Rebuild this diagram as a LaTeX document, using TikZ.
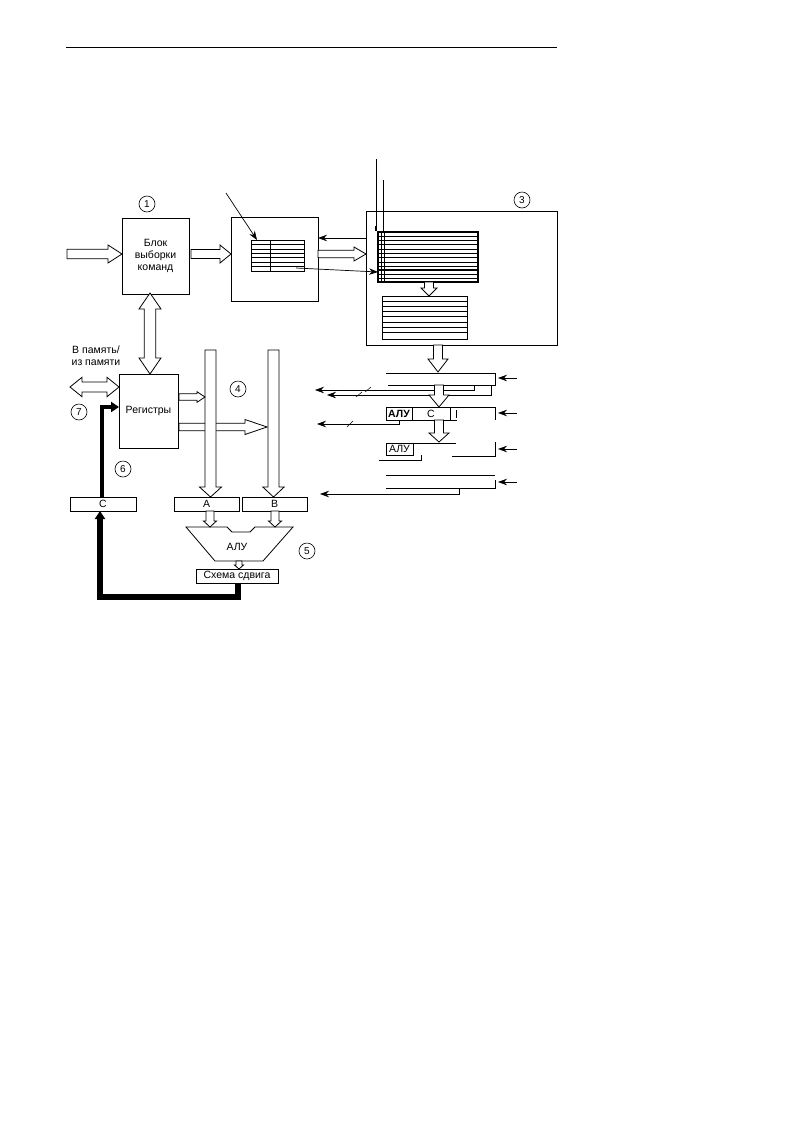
\documentclass[tikz,border=0pt]{standalone}
\usepackage{fontspec}
\setmainfont{Liberation Sans}
\usetikzlibrary{calc,arrows.meta}
\tikzset{
  x=1pt,y=-1pt,
  box/.style={draw=black,line width=0.7pt,fill=white,inner sep=0pt,outer sep=0pt,align=center,font=\fontsize{10.5}{12}\selectfont},
  hollow/.style={draw=black,line width=0.8pt,fill=white,line join=miter},
  thin line/.style={draw=black,line width=0.7pt},
  conn/.style={draw=black,line width=0.7pt,-{Stealth[length=9pt,width=6.5pt]}},
  bus/.style={draw=black,line width=5.5pt,-{Stealth[length=8pt,width=10pt,inset=0pt]}},
  num/.style={circle,draw=black,line width=0.6pt,minimum size=16pt,inner sep=0pt,font=\fontsize{10}{10}\selectfont},
  lbl/.style={inner sep=0pt,align=center,font=\fontsize{10.5}{12}\selectfont},
  slash/.style={draw=black,line width=0.5pt}
}
% from, to, shaft half, head half, head length
\newcommand\harrow[5]{%
  \coordinate (hb) at ($(#2)!#5pt!(#1)$);
  \draw[hollow] ($(#1)!#3pt!90:(#2)$) -- ($(hb)!#3pt!-90:(#1)$) -- ($(hb)!#4pt!-90:(#1)$) -- (#2)
    -- ($(hb)!#4pt!90:(#1)$) -- ($(hb)!#3pt!90:(#1)$) -- ($(#1)!#3pt!-90:(#2)$) -- cycle;}
\newcommand\hdouble[5]{%
  \coordinate (hb) at ($(#2)!#5pt!(#1)$);
  \coordinate (ha) at ($(#1)!#5pt!(#2)$);
  \draw[hollow] (#1) -- ($(ha)!#4pt!90:(#2)$) -- ($(ha)!#3pt!90:(#2)$) -- ($(hb)!#3pt!-90:(#1)$) -- ($(hb)!#4pt!-90:(#1)$) -- (#2)
    -- ($(hb)!#4pt!90:(#1)$) -- ($(hb)!#3pt!90:(#1)$) -- ($(ha)!#3pt!-90:(#2)$) -- ($(ha)!#4pt!-90:(#2)$) -- cycle;}
% name, x1, y1, x2, y2, text
\newcommand\bx[6]{%
  \node[box,minimum width={#4-#2},minimum height={#5-#3}] (#1) at ({(#2+#4)/2},{(#3+#5)/2}) {#6};}
\begin{document}
\begin{tikzpicture}
\useasboundingbox (0,0) rectangle (797,1125);
\fill[white] (0,0) rectangle (797,1125);
\coordinate (ruleL) at (66,47); \coordinate (ruleR) at (557,47);
\draw[draw=black,line width=1pt] (ruleL) -- (ruleR);

% main boxes
\bx{fetch}{122}{218}{189}{294}{Блок\\выборки\\команд}
\bx{decode}{231}{217}{318}{301}{}
\bx{cachebox}{366}{211}{557}{345}{}
\bx{regs}{119}{374}{178}{448}{Регистры}

% numbers
\node[num] (n1) at (147,204) {1};
\node[num] (n3) at (522,200) {3};
\node[num] (n4) at (238,389) {4};
\node[num] (n5) at (307,551) {5};
\node[num] (n6) at (123,469) {6};
\node[num] (n7) at (79,412) {7};

% decode table
\bx{dectab}{251}{240}{304}{271}{}
\foreach \yy in {244.4,248.9,253.3,257.7,262.1,266.6} \draw[thin line] (251,\yy) -- (304,\yy);
\draw[thin line] (270,240) -- (270,271);
\coordinate (ptrA) at (226,193);
\coordinate (ptrAe) at (257,240);
\draw[conn] (ptrA) -- (ptrAe);

% cache table
\bx{cachetab}{378}{232}{478}{282}{}
\draw[draw=black,line width=1.5pt] (cachetab.south west) rectangle (cachetab.north east);
\foreach \yy/\w in {236/0.6,240/0.6,244.5/1.2,249/0.6,253/0.6,257.5/1.2,262/0.6,266/0.6,270/1.2,274/0.6,278/0.6}
  \draw[draw=black,line width=\w pt] (378,\yy) -- (478,\yy);
\draw[thin line] (381,232) -- (381,282);
\draw[thin line] (384,232) -- (384,282);

\bx{datatab}{382}{296}{467}{339}{}
\foreach \yy in {301.3,306.3,311.7,316.7,322,327.3,332.7} \draw[thin line] (382,\yy) -- (467,\yy);

% vertical pointers
\coordinate (ptrB) at (376,159); \coordinate (ptrBe) at (376,231);
\coordinate (ptrC) at (383,180); \coordinate (ptrCe) at (383,232);
\draw[thin line] (ptrB) -- (ptrBe);
\draw[thin line,line width=1.2pt] (376,226) -- (ptrBe);
\draw[thin line] (ptrC) -- (ptrCe);

% decode <-> cache
\coordinate (back1) at (366,238); \coordinate (back1e) at (318,238);
\draw[conn] (back1) -- (back1e);
\coordinate (fw1) at (318,254); \coordinate (fw1e) at (366,254);
\harrow{fw1}{fw1e}{3.7}{7}{12}
\coordinate (hit) at (296,268); \coordinate (hite) at (378,272);
\draw[conn] (hit) -- (hite);

% hollow arrows top
\coordinate (in1) at (67,254); \coordinate (in1e) at (122,254);
\harrow{in1}{in1e}{4.7}{9}{14}
\coordinate (f2) at (191,254); \coordinate (f2e) at (231,254);
\harrow{f2}{f2e}{4.5}{9}{11}
\coordinate (fr1) at (150,293); \coordinate (fr2) at (150,374);
\hdouble{fr1}{fr2}{5.7}{11}{16}
\coordinate (cc1) at (429,282); \coordinate (cc2) at (429,296);
\harrow{cc1}{cc2}{4.5}{8}{8}
\coordinate (ex1) at (438,345); \coordinate (ex2) at (438,372);
\harrow{ex1}{ex2}{4.5}{10}{13}

% memory label + arrow
\node[lbl] (memlbl) at (96,356) {В память/\\из памяти};
\coordinate (m1) at (70,387); \coordinate (m2) at (119,387);
\hdouble{m1}{m2}{5}{9.7}{12}

% registers to buses
\coordinate (rb) at (179,427); \coordinate (rbe) at (267,427);
\harrow{rb}{rbe}{3.7}{7.5}{22}
\coordinate (ra) at (179,397); \coordinate (rae) at (205,397);

% operand latches
\bx{latA}{174}{497}{239}{511}{А}
\bx{latB}{242}{497}{307}{511}{В}
\bx{latC}{70}{497}{136}{511}{С}

% buses
\coordinate (busA) at (210.5,350); \coordinate (busB) at (273.5,350);
\coordinate (busAe) at (210.5,497); \coordinate (busBe) at (273.5,497);
\harrow{busA}{busAe}{5.5}{11}{10}
\harrow{busB}{busBe}{5.5}{10.7}{10}
\harrow{ra}{rae}{3.3}{5.3}{8}

% ALU
\draw[hollow] (186,527) coordinate (aluTL) -- (227,527) -- (232,532) -- (250,532) -- (255,527) -- (293,527) -- (263,561) -- (215,561) -- cycle;
\node[lbl] (alu) at (237,547) {АЛУ};
\coordinate (aI1) at (210,511); \coordinate (aI2) at (210,527);
\coordinate (bI1) at (275,511); \coordinate (bI2) at (275,527);
\harrow{aI1}{aI2}{4}{6.5}{6}
\harrow{bI1}{bI2}{4}{6.5}{6}
\bx{shift}{196}{569}{278}{583}{Схема сдвига}
\coordinate (aO1) at (239,561); \coordinate (aO2) at (239,569);
\harrow{aO1}{aO2}{3}{4.5}{4}

% thick result path
\coordinate (sOut) at (238,583);
\coordinate (cIn) at (100,511);
\draw[bus,line join=miter] (sOut) -- (238,597) -- (100,597) -- (cIn);
\coordinate (cOut) at (102,497);
\coordinate (rIn) at (119,407);
\draw[bus,line width=4.5pt] (cOut) -- (102,407) -- (rIn);

% pipeline registers (right)
\coordinate (r1a) at (386,373); \coordinate (r1b) at (495,373); \coordinate (r1c) at (495,385); \coordinate (r1d) at (388,385);
\draw[thin line] (r1a) -- (r1b) -- (r1c) -- (r1d);
\coordinate (l1) at (474,385); \coordinate (l1e) at (315,390);
\coordinate (l2) at (491,385); \coordinate (l2e) at (327,395);
\draw[conn] (l1) -- (l1 |- l1e) -- (l1e);
\draw[conn] (l2) -- (l2 |- l2e) -- (l2e);
\draw[slash] (365,392) -- (371,387);
\draw[slash] (356,397) -- (362,392);
\coordinate (mh1) at (439,385); \coordinate (mh2) at (439,407);
\harrow{mh1}{mh2}{4.5}{10}{12}

\bx{aluB}{386}{407}{412}{420}{\bfseries АЛУ}
\bx{cB}{412}{407}{450}{420}{С}
\draw[thin line] (450,407) -- (495,407);
\draw[thin line] (495,407) -- (495,420);
\draw[thin line] (450,420) -- (457,420);
\draw[thin line] (456,410) -- (456,418);
\coordinate (l3) at (399,420); \coordinate (l3e) at (317,424);
\draw[conn] (l3) -- (l3 |- l3e) -- (l3e);
\draw[slash] (347,427) -- (353,421);
\coordinate (mh3) at (439,420); \coordinate (mh4) at (439,442);
\harrow{mh3}{mh4}{4.5}{10}{9}

\bx{aluC}{386}{443}{413}{455}{АЛУ}
\draw[thin line] (413,443) -- (456,443);
\draw[thin line] (452,456) -- (495,456) -- (495,442);
\draw[thin line] (421,455) -- (421,460) -- (379,460);

\coordinate (r4a) at (386,475); \coordinate (r4b) at (495,475);
\coordinate (r4c) at (386,488); \coordinate (r4d) at (495,488);
\draw[thin line] (r4a) -- (r4b);
\draw[thin line] (r4c) -- (r4d) -- (495,480);
\coordinate (l4) at (459,488); \coordinate (l4e) at (320,494);
\draw[conn] (l4) -- (l4 |- l4e) -- (l4e);

% clock arrows
\foreach \yy in {378,413,449,482} {
  \coordinate (ckS) at (517,\yy); \coordinate (ckE) at (498,\yy);
  \draw[conn] (ckS) -- (ckE);
}
\end{tikzpicture}
\end{document}
